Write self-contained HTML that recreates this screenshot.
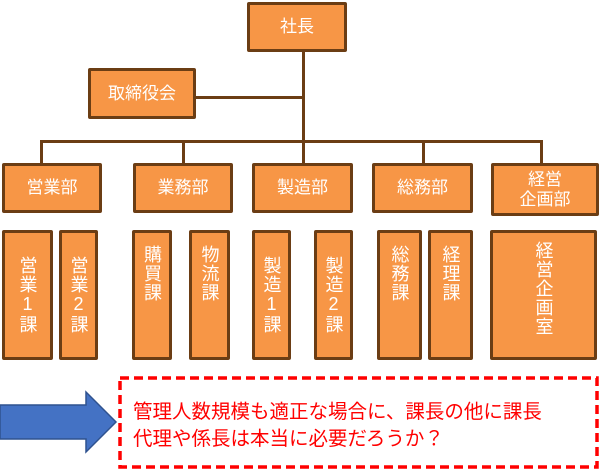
<!DOCTYPE html>
<html><head><meta charset="utf-8"><style>
body{margin:0;width:600px;height:471px;background:#fff;position:relative;overflow:hidden;font-family:"Liberation Sans","Noto Sans CJK JP",sans-serif}
.b{position:absolute;box-sizing:border-box;background:#f79646;border:3px solid #6b3d14;border-radius:2px;color:#fff;display:flex;align-items:center;justify-content:center;text-align:center;font-size:17px;line-height:20px}
.v span{writing-mode:vertical-rl;text-orientation:upright;font-size:18px;letter-spacing:1px;line-height:20px}
.t{align-items:flex-start;padding-top:12px}
.l{position:absolute;background:#6b3d14}
</style></head><body>
<div class="l" style="left:302px;top:50px;width:3px;height:92px"></div>
<div class="l" style="left:195px;top:96px;width:110px;height:3px"></div>
<div class="l" style="left:40px;top:140px;width:503px;height:3px"></div>
<div class="l" style="left:40px;top:140px;width:3px;height:25px"></div>
<div class="l" style="left:182px;top:140px;width:3px;height:25px"></div>
<div class="l" style="left:302px;top:140px;width:3px;height:25px"></div>
<div class="l" style="left:422px;top:140px;width:3px;height:25px"></div>
<div class="l" style="left:540px;top:140px;width:3px;height:25px"></div>
<div class="b" style="left:247px;top:2px;width:100px;height:50px">社長</div>
<div class="b" style="left:88px;top:68px;width:108px;height:51px">取締役会</div>
<div class="b" style="left:2px;top:163px;width:100px;height:50px">営業部</div>
<div class="b" style="left:133px;top:163px;width:100px;height:50px">業務部</div>
<div class="b" style="left:252px;top:163px;width:101px;height:50px">製造部</div>
<div class="b" style="left:372px;top:163px;width:101px;height:50px">総務部</div>
<div class="b" style="left:491px;top:163px;width:108px;height:53px">経営<br>企画部</div>
<div class="b v" style="left:2px;top:230px;width:51px;height:130px"><span>営業1課</span></div>
<div class="b v" style="left:59px;top:230px;width:39px;height:130px"><span>営業2課</span></div>
<div class="b v t" style="left:132px;top:230px;width:40px;height:130px"><span>購買課</span></div>
<div class="b v t" style="left:189px;top:230px;width:41px;height:130px"><span>物流課</span></div>
<div class="b v" style="left:252px;top:230px;width:39px;height:130px"><span>製造1課</span></div>
<div class="b v" style="left:314px;top:230px;width:39px;height:130px"><span>製造2課</span></div>
<div class="b v t" style="left:377px;top:230px;width:45px;height:130px"><span>総務課</span></div>
<div class="b v t" style="left:428px;top:230px;width:45px;height:130px"><span>経理課</span></div>
<div class="b v t" style="left:490px;top:230px;width:107px;height:130px;padding-top:8px"><span>経営企画室</span></div>
<svg style="position:absolute;left:0;top:0" width="600" height="471">
<polygon points="0,405 86,405 86,392 116,422 86,452 86,439 0,439" fill="#4472c4" stroke="#2f528f" stroke-width="1.5"/>
<rect x="120" y="378" width="477" height="89" fill="none" stroke="#ff0000" stroke-width="3.5" stroke-dasharray="9,5"/>
</svg>
<div style="position:absolute;left:133px;top:399px;color:#ff0000;font-size:19.5px;line-height:27px;white-space:nowrap">管理人数規模も適正な場合に、課長の他に課長<br>代理や係長は本当に必要だろうか？</div>
</body></html>
